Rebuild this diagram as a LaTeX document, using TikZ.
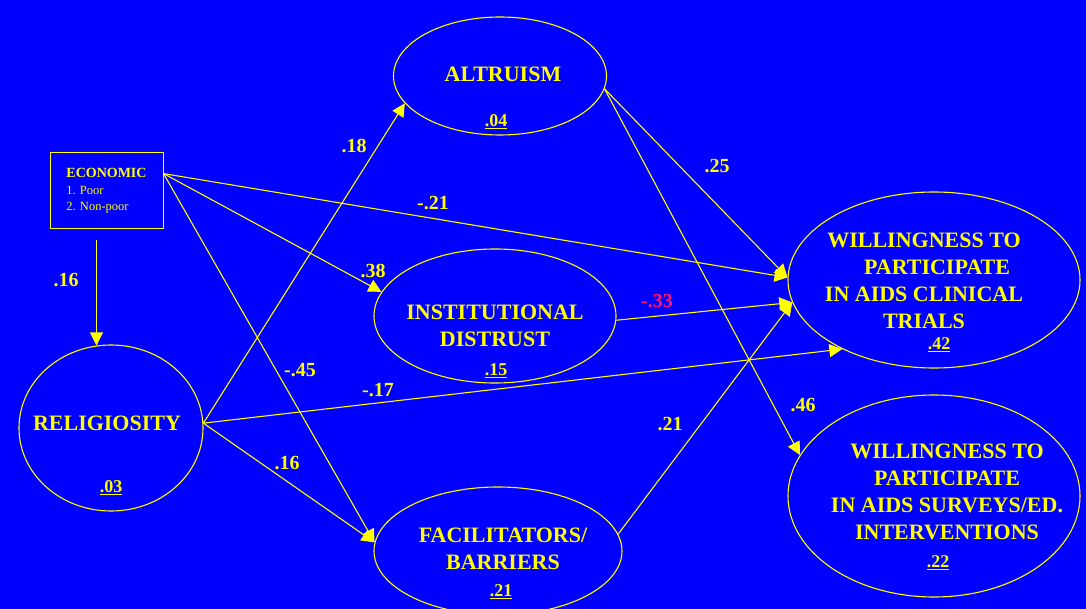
\documentclass[tikz,border=0pt]{standalone}
\usepackage{fontspec}
\setmainfont{Liberation Serif}
\usetikzlibrary{shapes.geometric,arrows.meta}
\definecolor{bgblue}{RGB}{0,0,255}
\definecolor{ylw}{RGB}{255,255,0}
\definecolor{pinkred}{RGB}{255,20,110}
\begin{document}
\begin{tikzpicture}[x=1pt,y=-1pt,
  ell/.style={draw=ylw,line width=1.1pt,ellipse,inner sep=0pt},
  arr/.style={draw=ylw,line width=1.1pt,-{Triangle[length=13pt,width=13pt]}},
  big/.style={text=ylw,font=\fontsize{22}{27}\selectfont\bfseries,align=center},
  num/.style={text=ylw,font=\fontsize{18}{20}\selectfont\bfseries},
  coef/.style={text=ylw,font=\fontsize{20}{22}\selectfont\bfseries}]
  \fill[bgblue] (0,0) rectangle (1086,609);
  \useasboundingbox (0,0) rectangle (1086,609);

  % variables
  \node[draw=ylw,line width=1pt,minimum width=113pt,minimum height=76pt,
        text=ylw,align=left,font=\fontsize{12.5}{16.5}\selectfont] (eco) at (106.5,191)
    {{\fontsize{14}{16.5}\selectfont\bfseries ECONOMIC}\\1. Poor\\2. Non-poor};
  \node[ell,minimum width=213pt,minimum height=118pt] (alt) at (500,76) {};
  \node[ell,minimum width=242pt,minimum height=134pt] (inst) at (495,316) {};
  \node[ell,minimum width=248pt,minimum height=128pt] (fac) at (498,551) {};
  \node[ell,minimum width=184pt,minimum height=166pt] (rel) at (111,428) {};
  \node[ell,minimum width=292pt,minimum height=176pt] (wcl) at (934,280) {};
  \node[ell,minimum width=292pt,minimum height=202pt] (wsv) at (934,496) {};

  \node[big] (alt-t) at (503,74) {ALTRUISM};
  \node[num] (alt-r) at (496,122) {\underline{.04}};
  \node[big] (inst-t) at (495,326) {INSTITUTIONAL\\DISTRUST};
  \node[num] (inst-r) at (496,371) {\underline{.15}};
  \node[big] (fac-t) at (503,549) {FACILITATORS/\\BARRIERS};
  \node[num] (fac-r) at (501,592) {\underline{.21}};
  \node[big] (rel-t) at (107,423) {RELIGIOSITY};
  \node[num] (rel-r) at (111,488) {\underline{.03}};
  \node[big] (wcl-t) at (924,281) {WILLINGNESS TO\\\hspace*{26pt}PARTICIPATE\\IN AIDS CLINICAL\\TRIALS};
  \node[num] (wcl-r) at (939,345) {\underline{.42}};
  \node[big] (wsv-t) at (947,492) {WILLINGNESS TO\\PARTICIPATE\\IN AIDS SURVEYS/ED.\\INTERVENTIONS};
  \node[num] (wsv-r) at (938,563) {\underline{.22}};

  % paths
  \draw[arr] ([xshift=-10pt,yshift=-11pt]eco.south) coordinate (eco-d) -- (rel.100 -| eco-d);
  \draw[arr] (eco.17) -- (inst.168);
  \draw[arr] (eco.17) -- (fac.176);
  \draw[arr] (eco.17) -- (wcl.179);
  \draw[arr] (rel.3) -- (alt.196);
  \draw[arr] (rel.3) -- (fac.176);
  \draw[arr] (rel.3) -- (wcl.217);
  \draw[arr] (alt.353) -- (wcl.179);
  \draw[arr] (alt.353) -- (wsv.163);
  \draw[arr] (inst.358) -- (wcl.189);
  \draw[arr] (fac.8) -- (wcl.189);

  % coefficients
  \node[coef] (c1) at (66,280) {.16};
  \node[coef] (c2) at (354,146) {.18};
  \node[coef] (c3) at (373,271) {.38};
  \node[coef] (c4) at (433,203) {-.21};
  \node[coef] (c5) at (717,166) {.25};
  \node[coef,text=pinkred] (c6) at (657,301) {-.33};
  \node[coef] (c7) at (300,370) {-.45};
  \node[coef] (c8) at (378,390) {-.17};
  \node[coef] (c9) at (287,463) {.16};
  \node[coef] (c10) at (670,424) {.21};
  \node[coef] (c11) at (803,405) {.46};
\end{tikzpicture}
\end{document}
